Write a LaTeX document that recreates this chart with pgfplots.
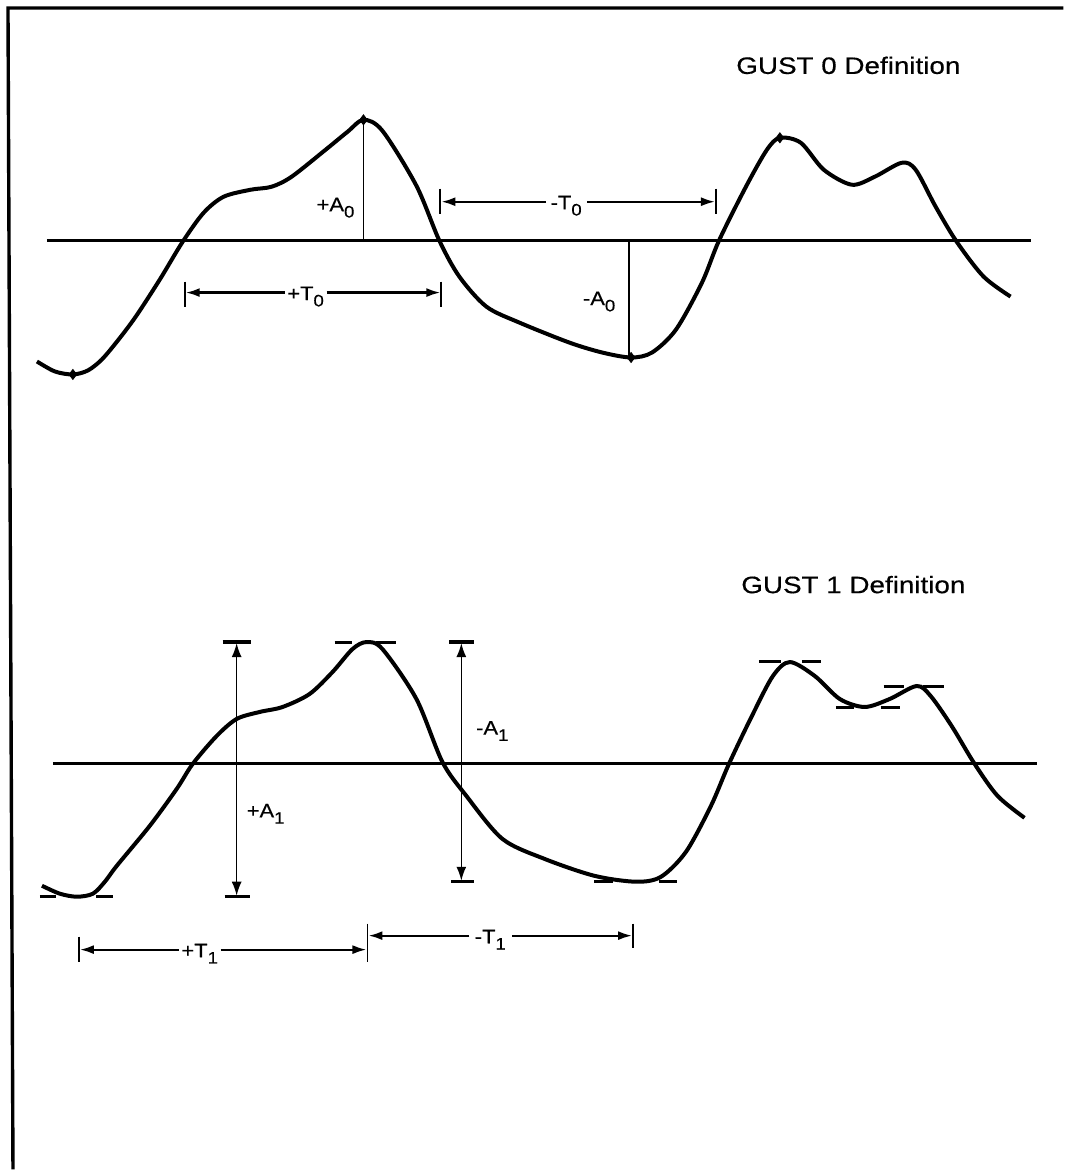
\documentclass[border=0pt]{standalone}
\usepackage{fontspec}
\setmainfont{Liberation Sans}[FakeBold=0.4]
\usepackage{graphicx}
\usepackage{pgfplots}
\pgfplotsset{compat=1.18}
\usetikzlibrary{arrows.meta}

% one axis unit = one pixel of the original sheet
\newcommand{\lab}[2]{\scalebox{1.12}[1]{\fontsize{9.8}{11}\selectfont #1\raisebox{-0.32em}{\fontsize{8.3}{9}\selectfont #2}}}
\newcommand{\ttl}[1]{\scalebox{1.17}[1]{\fontsize{11.9}{14}\selectfont #1}}

\begin{document}
\begin{tikzpicture}
\begin{axis}[
    scale only axis,
    width=532.5pt, height=585.5pt,
    xmin=0, xmax=1065, ymin=0, ymax=1171,
    y dir=reverse,
    hide axis,
    clip=false,
]
    \path (rel axis cs:0,0) rectangle (rel axis cs:1,1);

    % frame
    \addplot[no marks, line width=1.7pt] coordinates {(1065,8) (8,8) (13,1171)};

    % ---------------- GUST 0 ----------------
    \addplot[no marks, line width=1.5pt] coordinates {(47,241) (1032,241)};

    \addplot[no marks, smooth, line width=2pt] coordinates {
        (37,362) (55,372) (73,375) (88,371) (102,360) (118,341) (136,317)
        (160,280) (183,242) (204,213) (224,197) (251,190) (272,187) (292,177)
        (326,150) (348,132) (364,120) (383,131) (417,186) (440,241) (460,277)
        (487,307) (520,323) (570,343) (603,353) (632,358) (653,353) (677,330)
        (703,283) (720,241) (747,187) (768,150) (781,138) (802,143) (825,170)
        (853,185) (876,177) (903,163) (917,170) (937,207) (958,242) (985,277)
        (1012,297)
    };
    \addplot[only marks, mark=diamond*, mark size=2.5pt] coordinates {
        (73,375) (364,120) (632,358) (781,138)
    };

    % amplitudes
    \addplot[no marks, line width=0.8pt] coordinates {(364,120) (364,241)};
    \addplot[no marks, line width=0.8pt] coordinates {(630,241) (630,358)};
    \node at (axis cs:336,208) {\lab{+A}{0}};
    \node at (axis cs:600,302) {\lab{-A}{0}};

    % +T0
    \addplot[no marks, line width=0.9pt] coordinates {(185,282) (185,307)};
    \addplot[no marks, line width=0.9pt] coordinates {(442,282) (442,307)};
    \addplot[no marks, line width=1.1pt, -{Latex[length=7pt,width=4.5pt]}] coordinates {(285,293) (186,293)};
    \addplot[no marks, line width=1.1pt, -{Latex[length=7pt,width=4.5pt]}] coordinates {(327,293) (441,293)};
    \node at (axis cs:306,297) {\lab{+T}{0}};

    % -T0
    \addplot[no marks, line width=0.9pt] coordinates {(441,189) (441,214)};
    \addplot[no marks, line width=0.9pt] coordinates {(717,189) (717,214)};
    \addplot[no marks, line width=1.1pt, -{Latex[length=7pt,width=4.5pt]}] coordinates {(547,202) (442,202)};
    \addplot[no marks, line width=1.1pt, -{Latex[length=7pt,width=4.5pt]}] coordinates {(588,202) (716,202)};
    \node at (axis cs:567,206) {\lab{-T}{0}};

    \node[anchor=base west, inner sep=0pt] at (axis cs:737,74) {\ttl{GUST 0 Definition}};

    % ---------------- GUST 1 ----------------
    \addplot[no marks, line width=1.5pt] coordinates {(53,765) (1038,765)};

    \addplot[no marks, smooth, line width=2pt] coordinates {
        (42,887) (60,895) (77,898) (93,895) (105,883) (117,867) (150,827)
        (177,790) (193,765) (217,737) (237,720) (260,713) (283,708) (310,695)
        (333,673) (353,650) (367,643) (383,650) (417,700) (443,763) (467,797)
        (503,840) (545,860) (595,877) (637,883) (662,878) (687,853) (712,807)
        (730,765) (753,717) (774,677) (791,663) (816,677) (841,700) (866,708)
        (891,700) (918,687) (932,697) (953,727) (976,765) (999,797) (1026,819)
    };

    % extremum dashes
    \addplot[no marks, line width=1.5pt] coordinates {(40,898) (56,898)};
    \addplot[no marks, line width=1.5pt] coordinates {(96,898) (113,898)};
    \addplot[no marks, line width=1.5pt] coordinates {(335,643) (353,643)};
    \addplot[no marks, line width=1.5pt] coordinates {(377,643) (397,643)};
    \addplot[no marks, line width=1.5pt] coordinates {(595,883) (614,883)};
    \addplot[no marks, line width=1.5pt] coordinates {(660,883) (678,883)};
    \addplot[no marks, line width=1.5pt] coordinates {(760,662) (782,662)};
    \addplot[no marks, line width=1.5pt] coordinates {(803,662) (822,662)};
    \addplot[no marks, line width=1.5pt] coordinates {(837,709) (855,709)};
    \addplot[no marks, line width=1.5pt] coordinates {(882,709) (901,709)};
    \addplot[no marks, line width=1.5pt] coordinates {(885,687) (905,687)};
    \addplot[no marks, line width=1.5pt] coordinates {(924,687) (945,687)};

    % +A1
    \addplot[no marks, line width=1.7pt] coordinates {(223,643) (251,643)};
    \addplot[no marks, line width=1.7pt] coordinates {(225,898) (250,898)};
    \addplot[no marks, line width=0.8pt, {Latex[length=7pt,width=5pt]}-{Latex[length=7pt,width=5pt]}] coordinates {(237,644) (237,897)};
    \node at (axis cs:266,815) {\lab{+A}{1}};

    % -A1
    \addplot[no marks, line width=1.7pt] coordinates {(450,643) (475,643)};
    \addplot[no marks, line width=1.7pt] coordinates {(452,883) (475,883)};
    \addplot[no marks, line width=0.8pt, {Latex[length=7pt,width=5pt]}-{Latex[length=7pt,width=5pt]}] coordinates {(462,644) (462,882)};
    \node at (axis cs:493,732) {\lab{-A}{1}};

    % +T1
    \addplot[no marks, line width=0.9pt] coordinates {(79,938) (79,963)};
    \addplot[no marks, line width=0.9pt] coordinates {(368,925) (368,963)};
    \addplot[no marks, line width=1.1pt, -{Latex[length=7pt,width=4.5pt]}] coordinates {(179,951) (80,951)};
    \addplot[no marks, line width=1.1pt, -{Latex[length=7pt,width=4.5pt]}] coordinates {(221,951) (367,951)};
    \node at (axis cs:200,955) {\lab{+T}{1}};

    % -T1
    \addplot[no marks, line width=0.9pt] coordinates {(634,925) (634,949)};
    \addplot[no marks, line width=1.1pt, -{Latex[length=7pt,width=4.5pt]}] coordinates {(470,937) (369,937)};
    \addplot[no marks, line width=1.1pt, -{Latex[length=7pt,width=4.5pt]}] coordinates {(513,937) (633,937)};
    \node at (axis cs:491,941) {\lab{-T}{1}};

    \node[anchor=base west, inner sep=0pt] at (axis cs:742,594) {\ttl{GUST 1 Definition}};
\end{axis}
\end{tikzpicture}
\end{document}
